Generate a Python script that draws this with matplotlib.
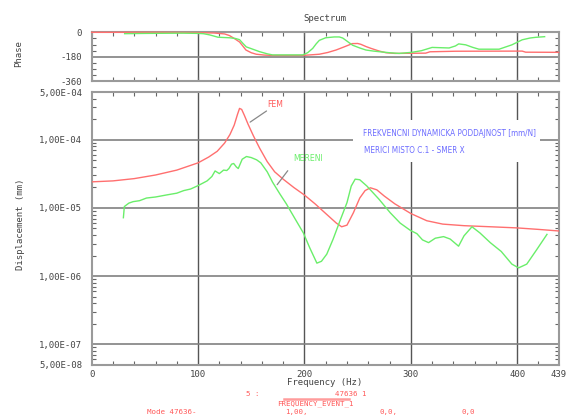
import numpy as np
import matplotlib
matplotlib.use("Agg")
import matplotlib.pyplot as plt
from matplotlib.ticker import FixedLocator, MultipleLocator, LogLocator, NullFormatter
from matplotlib.patches import Rectangle
from matplotlib.lines import Line2D

# ---------------- data ----------------
fem_freq = [0, 20, 40, 60, 80, 100, 110, 118, 125, 130, 134, 137, 139, 141, 143.5, 147,
            152, 158, 165, 172, 180, 190, 200, 210, 220, 230, 235, 240, 246, 252, 257,
            262, 268, 275, 285, 300, 315, 330, 350, 375, 400, 420, 439]
fem_disp = [2.42e-5, 2.5e-5, 2.7e-5, 3.05e-5, 3.6e-5, 4.6e-5, 5.6e-5, 6.8e-5, 9.0e-5,
            1.2e-4, 1.65e-4, 2.35e-4, 2.9e-4, 2.8e-4, 2.3e-4, 1.7e-4, 1.15e-4, 7.5e-5,
            4.8e-5, 3.4e-5, 2.65e-5, 2.0e-5, 1.55e-5, 1.15e-5, 8.3e-6, 6.0e-6, 5.3e-6,
            5.6e-6, 8.5e-6, 1.4e-5, 1.8e-5, 1.98e-5, 1.85e-5, 1.5e-5, 1.15e-5, 8.3e-6,
            6.5e-6, 5.8e-6, 5.5e-6, 5.3e-6, 5.1e-6, 4.85e-6, 4.6e-6]

meas_freq = [29.8, 30.7, 35, 39, 45, 51.5, 60, 71, 80, 86.5, 93, 100, 108.5, 113, 116,
             120, 124, 127, 129, 131.5, 133.5, 136, 137.8, 141.5, 145.5, 150, 155, 159,
             165, 170, 177, 183, 189.7, 199, 205, 211.7, 216, 221, 227, 233.6, 240, 244,
             247.7, 252, 258.7, 270, 280.7, 290, 299.5, 305.7, 311, 316.7, 323, 330.8,
             337, 344.9, 350, 357.5, 365, 374.7, 385, 395, 401.3, 409, 418, 428]
meas_disp = [7.2e-6, 1.05e-5, 1.18e-5, 1.24e-5, 1.28e-5, 1.4e-5, 1.45e-5, 1.56e-5,
             1.65e-5, 1.8e-5, 1.9e-5, 2.13e-5, 2.5e-5, 2.9e-5, 3.5e-5, 3.2e-5, 3.6e-5,
             3.55e-5, 3.8e-5, 4.4e-5, 4.5e-5, 4.0e-5, 3.8e-5, 5.2e-5, 5.7e-5, 5.5e-5,
             5.1e-5, 4.6e-5, 3.4e-5, 2.4e-5, 1.6e-5, 1.15e-5, 7.6e-6, 4.3e-6, 2.6e-6,
             1.55e-6, 1.65e-6, 2.1e-6, 3.5e-6, 6.6e-6, 1.2e-5, 2.1e-5, 2.65e-5, 2.6e-5,
             2.1e-5, 1.35e-5, 8.5e-6, 6.0e-6, 4.7e-6, 4.2e-6, 3.4e-6, 3.1e-6, 3.6e-6,
             3.8e-6, 3.5e-6, 2.75e-6, 3.9e-6, 5.3e-6, 4.3e-6, 3.1e-6, 2.3e-6, 1.5e-6,
             1.32e-6, 1.5e-6, 2.4e-6, 4.1e-6]

fem_phase_freq = [0, 60, 100, 115, 125, 129.6, 135, 139, 142, 145, 150, 154.7, 162, 170,
                  198, 214, 222, 229.7, 238, 245, 250, 253, 258, 262.6, 270, 276.6, 285,
                  314, 318, 342, 404.7, 408, 439]
fem_phase = [0, 0, -2, -5, -12, -24, -50, -71, -100, -130, -150, -161, -167, -170,
             -170, -161, -148, -130, -105, -83, -82, -88, -105, -118, -137, -150, -155,
             -153, -143, -139, -138, -146, -147]

meas_phase_freq = [31, 50, 86, 100, 105, 111, 118.7, 129.6, 135, 139, 142, 145.3, 150,
                   157.8, 165, 170, 198.4, 203, 207.8, 211, 214, 220, 228, 232.8, 236,
                   239, 245.3, 252, 257.8, 265, 270, 280, 289, 301, 310, 320, 336, 342,
                   345, 351.6, 358, 364, 383, 395, 404.7, 412, 417, 425.8]
meas_phase = [-10, -8, -6, -8, -10, -19, -36, -40, -45, -54, -80, -107, -120, -142,
              -158, -166, -166, -150, -118, -85, -59, -40, -34, -34, -42, -59, -95,
              -115, -130, -138, -142, -150, -155, -147, -135, -111, -115, -100, -85,
              -92, -110, -124, -124, -92, -55, -42, -37, -32]

x_ticks = [0, 100, 200, 300, 400, 439]
x_tick_labels = ["0", "100", "200", "300", "400", "439"]
y_ticks = [5e-4, 1e-4, 1e-5, 1e-6, 1e-7, 5e-8]
y_tick_labels = ["5,00E-04", "1,00E-04", "1,00E-05", "1,00E-06", "1,00E-07", "5,00E-08"]
phase_ticks = [0, -180, -360]
phase_tick_labels = ["0", "-180", "-360"]

# ---------------- styling ----------------
RED = "#ff6f6f"
GREEN = "#6aee6a"
BLUE = "#6b6bff"
TXTRED = "#ff5a5a"
GRID_V = "#555555"
GRID_H = "#808080"
SPINE = "#9a9a9a"
MONO = "DejaVu Sans Mono"
NARROW = "DejaVu Sans"

fig = plt.figure(figsize=(5.73, 4.17), dpi=100)
fig.patch.set_facecolor("white")

L, W = 0.160, 0.815
ax_ph = fig.add_axes([L, 0.805, W, 0.1175])
ax = fig.add_axes([L, 0.1254, W, 0.6533])


def style_common(a):
    for s in a.spines.values():
        s.set_color(SPINE)
        s.set_linewidth(1.5)
    a.set_xlim(0, 439)
    a.xaxis.set_minor_locator(MultipleLocator(20))
    a.tick_params(axis="both", which="both", direction="in", top=True, right=True,
                  color="#666666")
    a.tick_params(axis="both", which="major", length=0)
    a.tick_params(axis="both", which="minor", length=3, width=0.8)
    for xv in [100, 200, 300, 400]:
        a.axvline(xv, color=GRID_V, lw=1.0, zorder=1)


# phase plot
style_common(ax_ph)
ax_ph.set_ylim(-360, 0)
ax_ph.yaxis.set_major_locator(FixedLocator(phase_ticks))
ax_ph.set_yticklabels(phase_tick_labels, fontfamily=MONO, fontsize=6.5, color="#444444")
ax_ph.yaxis.set_minor_locator(MultipleLocator(45))
ax_ph.tick_params(axis="y", which="major", pad=7)
ax_ph.set_xticks([])
ax_ph.xaxis.set_minor_locator(MultipleLocator(20))
ax_ph.axhline(-180, color=GRID_H, lw=1.2, zorder=1)
ax_ph.plot(fem_phase_freq, fem_phase, color=RED, lw=1.0, zorder=3, clip_on=False)
ax_ph.plot(meas_phase_freq, meas_phase, color=GREEN, lw=1.0, zorder=3)

# displacement plot
style_common(ax)
ax.set_yscale("log")
ax.set_ylim(5e-8, 5e-4)
ax.yaxis.set_major_locator(FixedLocator(y_ticks))
ax.yaxis.set_minor_locator(LogLocator(base=10, subs=np.arange(2, 10)))
ax.yaxis.set_minor_formatter(NullFormatter())
ax.set_yticklabels(y_tick_labels, fontfamily=MONO, fontsize=6.5, color="#444444")
ax.tick_params(axis="y", which="major", pad=7)
ax.set_xticks(x_ticks)
ax.set_xticklabels(x_tick_labels, fontfamily=MONO, fontsize=6.5, color="#444444")
ax.tick_params(axis="x", which="major", pad=4)
for yv in [1e-4, 1e-5, 1e-6, 1e-7]:
    ax.axhline(yv, color=GRID_H, lw=1.2, zorder=1)

ax.plot(fem_freq, fem_disp, color=RED, lw=1.0, zorder=4)
ax.plot(meas_freq, meas_disp, color=GREEN, lw=1.0, zorder=4)

# white label box with blue captions
ax.add_patch(Rectangle((0.559, 0.744), 0.40, 0.154, transform=ax.transAxes,
                       facecolor="white", edgecolor="none", zorder=2))
t1 = ax.text(0.581, 0.849, "FREKVENCNI DYNAMICKA PODDAJNOST [mm/N]",
             transform=ax.transAxes, color=BLUE, fontfamily=NARROW, fontstretch="condensed",
             fontsize=7, va="center", ha="left", zorder=5)
t2 = ax.text(0.583, 0.786, "MERICI MISTO C.1 - SMER X", transform=ax.transAxes,
             color=BLUE, fontfamily=NARROW, fontstretch="condensed", fontsize=7,
             va="center", ha="left", zorder=5)


# curve labels with leader lines
def on_curve(f, xs, ys):
    return 10 ** np.interp(f, xs, np.log10(ys))


f1 = 146.8
ax.annotate("", xy=(f1, on_curve(f1, fem_freq, fem_disp)), xytext=(166.5, 2.8e-4),
            arrowprops=dict(arrowstyle="-", color="#888888", lw=0.9), zorder=5)
ax.text(165.3, 3.35e-4, "FEM", color=TXTRED, fontfamily=NARROW,
        fontstretch="condensed", fontsize=6.2, va="center", ha="left", zorder=5)
f2 = 172.8
ax.annotate("", xy=(f2, on_curve(f2, meas_freq, meas_disp)), xytext=(185.9, 3.8e-5),
            arrowprops=dict(arrowstyle="-", color="#888888", lw=0.9), zorder=5)
ax.text(189.8, 5.33e-5, "MERENI", color=GREEN, fontfamily=NARROW,
        fontstretch="condensed", fontsize=6.2, va="center", ha="left", zorder=5)

# fit caption size so that the first blue line has the reference width (pixels)
fig.canvas.draw()
renderer = fig.canvas.get_renderer()
w1 = t1.get_window_extent(renderer).width
cap_fs = t1.get_fontsize() * 174 / w1
t1.set_fontsize(cap_fs)
t2.set_fontsize(cap_fs)

# titles and axis labels
fig.text(0.5674, 0.956, "Spectrum", fontfamily=MONO, fontsize=6.5, color="#444444",
         ha="center", va="center")
fig.text(0.033, 0.872, "Phase", fontfamily=MONO, fontsize=6.5, color="#444444",
         rotation=90, ha="center", va="center")
fig.text(0.035, 0.462, "Displacement (mm)", fontfamily=MONO, fontsize=6.5,
         color="#444444", rotation=90, ha="center", va="center")
fig.text(0.5674, 0.0823, "Frequency (Hz)", fontfamily=MONO, fontsize=6.5,
         color="#444444", ha="center", va="center")

# red footer
FS = 5.4
fig.text(246 / 573, 0.0560, "5 :", fontfamily=MONO, fontsize=FS, color=TXTRED,
         ha="left", va="center")
fig.text(335 / 573, 0.0560, "47636 1", fontfamily=MONO, fontsize=FS, color=TXTRED,
         ha="left", va="center")
fig.add_artist(Line2D([284 / 573, 349 / 573], [0.0430, 0.0430], color="#ff9c9c",
                      lw=1.8, transform=fig.transFigure))
fig.text(315 / 573, 0.0330, "FREQUENCY_EVENT_1", fontfamily=MONO, fontsize=FS,
         color=TXTRED, ha="center", va="center")
fig.text(147 / 573, 0.0110, "Mode 47636-", fontfamily=MONO, fontsize=FS, color=TXTRED,
         ha="left", va="center")
fig.text(285 / 573, 0.0110, "1,00,", fontfamily=MONO, fontsize=FS, color=TXTRED,
         ha="left", va="center")
fig.text(379 / 573, 0.0110, "0,0,", fontfamily=MONO, fontsize=FS, color=TXTRED,
         ha="left", va="center")
fig.text(462 / 573, 0.0110, "0,0", fontfamily=MONO, fontsize=FS, color=TXTRED,
         ha="left", va="center")

fig.savefig("out.png", dpi=100)
